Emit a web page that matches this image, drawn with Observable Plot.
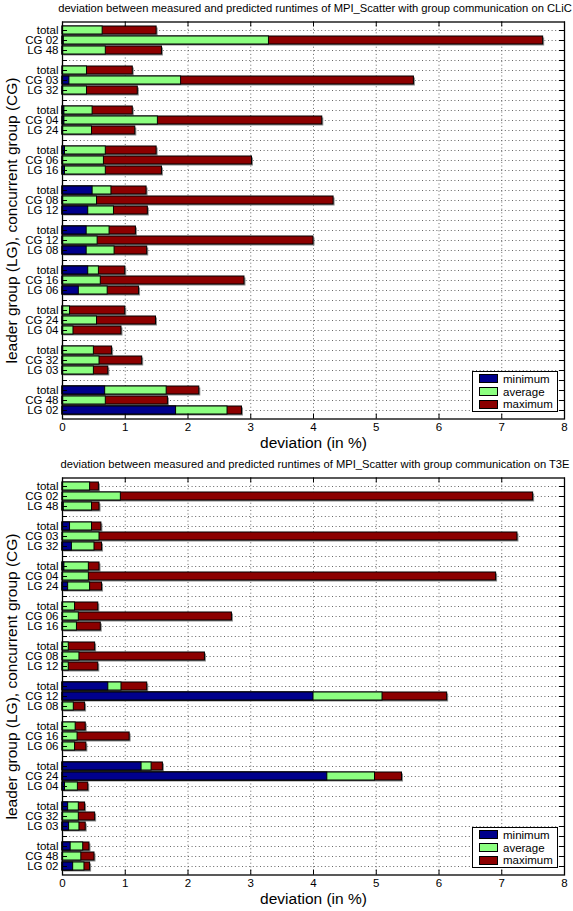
<!DOCTYPE html>
<html><head><meta charset="utf-8">
<script src="https://cdn.jsdelivr.net/npm/d3@7"></script>
<script src="https://cdn.jsdelivr.net/npm/@observablehq/plot@0.6"></script>
<style>
body{margin:0;background:#fff;font-family:"Liberation Sans",Arial,Helvetica,sans-serif;}
.panel{position:relative;width:573px;overflow:hidden;}
.panel svg{display:block;}
.title{font-size:11.2px;line-height:17px;height:16px;text-align:center;padding-left:57px;white-space:nowrap;color:#000;}
.legend{position:absolute;left:472px;width:86px;height:41px;background:#fff;border:1px solid #000;box-sizing:border-box;padding:0.5px 0 0 6px;font-size:11.5px;color:#000;}
.legend div{display:flex;align-items:center;height:12.7px;}
.legend span.sw{display:inline-block;box-sizing:border-box;width:19px;height:9px;border:1px solid #000;margin-right:5px;}
</style>
</head><body>
<div id="app"></div>
<script>
// ---------- data ----------
const groupCG = ["CG 02","CG 03","CG 04","CG 06","CG 08","CG 12","CG 16","CG 24","CG 32","CG 48"];
const groupLG = ["LG 48","LG 32","LG 24","LG 16","LG 12","LG 08","LG 06","LG 04","LG 03","LG 02"];
const xTickValues = [0,1,2,3,4,5,6,7,8];
const seriesNames = ["minimum","average","maximum"];
const seriesColors = ["#00008c","#8cff80","#8c0000"];

// rows per group: total, CG, LG
const clicMin = [0,0.02,0.01, 0,0.11,0.01, 0.03,0.03,0.01, 0.04,0.01,0.04, 0.48,0.01,0.41,
                 0.385,0.01,0.385, 0.41,0.01,0.26, 0.01,0.01,0.01, 0.01,0.01,0.01, 0.68,0.01,1.81];
const clicAvg = [0.64,3.29,0.69, 0.39,1.89,0.39, 0.48,1.52,0.47, 0.69,0.66,0.69, 0.78,0.55,0.82,
                 0.75,0.56,0.83, 0.58,0.61,0.72, 0.12,0.55,0.175, 0.50,0.59,0.50, 1.66,0.69,2.63];
const clicMax = [1.50,7.66,1.585, 1.12,5.60,1.20, 1.12,4.14,1.16, 1.50,3.02,1.585, 1.34,4.32,1.36,
                 1.17,4.00,1.35, 1.00,2.90,1.22, 1.00,1.49,0.94, 0.79,1.27,0.73, 2.18,1.68,2.86];

const t3eMin = [0,0,0.02, 0.12,0,0.15, 0.03,0,0.09, 0,0,0, 0,0,0,
                0.73,4.00,0, 0,0,0, 1.26,4.22,0.04, 0.09,0,0.105, 0.13,0,0.17];
const t3eAvg = [0.44,0.93,0.47, 0.47,0.59,0.51, 0.42,0.42,0.44, 0.20,0.26,0.23, 0.10,0.27,0.10,
                0.94,5.10,0.18, 0.21,0.24,0.20, 1.42,4.98,0.245, 0.26,0.26,0.27, 0.33,0.30,0.35];
const t3eMax = [0.58,7.50,0.59, 0.62,7.25,0.63, 0.59,6.91,0.63, 0.57,2.70,0.61, 0.52,2.27,0.57,
                1.35,6.13,0.36, 0.37,1.07,0.38, 1.60,5.41,0.41, 0.36,0.52,0.37, 0.43,0.51,0.44];

const panels = [
  {title:"deviation between measured and predicted runtimes of MPI_Scatter with group communication on CLiC",
   min:clicMin, avg:clicAvg, max:clicMax, marginBottom:37.5},
  {title:"deviation between measured and predicted runtimes of MPI_Scatter with group communication on T3E",
   min:t3eMin, avg:t3eAvg, max:t3eMax, marginBottom:36.5}
];

// ---------- build ----------
const W = 573, ML = 62, MR = 9, MT = 5.5, FRAME_H = 397, TITLE_H = 16;
const frameW = W - ML - MR;
const app = document.getElementById("app");

panels.forEach((p) => {
  const keys = [], labelOf = {}, rows = [];
  groupCG.forEach((cg, g) => {
    if (g > 0) { const k = `gap${g}`; keys.push(k); labelOf[k] = ""; }
    ["total", cg, groupLG[g]].forEach((lab, r) => {
      const k = `${g}-${r}`; keys.push(k); labelOf[k] = lab;
      const i = g*3 + r;
      rows.push({key:k, min:p.min[i], avg:p.avg[i], max:p.max[i]});
    });
  });

  const panel = document.createElement("div");
  panel.className = "panel";
  const t = document.createElement("div");
  t.className = "title"; t.textContent = p.title;
  panel.appendChild(t);

  const H = MT + FRAME_H + p.marginBottom;
  const dots = {stroke:"#555", strokeWidth:0.9, strokeDasharray:"1,2.6", strokeOpacity:1};
  const chart = Plot.plot({
    width: W, height: H,
    marginLeft: ML, marginRight: MR, marginTop: MT, marginBottom: p.marginBottom,
    style: {fontFamily:'"Liberation Sans",Arial,Helvetica,sans-serif', fontSize:"11.5px", color:"#000", background:"#fff"},
    x: {domain:[0,8], label:null},
    y: {type:"band", domain:keys, paddingInner:0.2, paddingOuter:0.1, label:null},
    marks: [
      Plot.gridY(keys, dots),
      Plot.gridX([1,2,3,4,5,6,7], dots),
      Plot.barX(rows, {x:"max", y:"key", fill:"#8a8a8a", dx:1.5, dy:1.5}),
      Plot.barX(rows, {x:"max", y:"key", fill:seriesColors[2], stroke:"#000", strokeWidth:1}),
      Plot.barX(rows, {x:"avg", y:"key", fill:seriesColors[1], stroke:"#000", strokeWidth:1}),
      Plot.barX(rows.filter(d => d.min > 0), {x:"min", y:"key", fill:seriesColors[0], stroke:"#000", strokeWidth:1}),
      Plot.ruleY(keys, {y:d=>d, stroke:"#000", insetRight: frameW - 5}),
      Plot.ruleY(keys, {y:d=>d, stroke:"#000", insetLeft: frameW - 5}),
      Plot.ruleX(xTickValues, {x:d=>d, stroke:"#000", insetTop: FRAME_H - 5}),
      Plot.ruleX(xTickValues, {x:d=>d, stroke:"#000", insetBottom: FRAME_H - 5}),
      Plot.frame({stroke:"#000", strokeWidth:1.3}),
      Plot.axisY({tickSize:0, tickPadding:4, fontSize:11.5, tickFormat: k => labelOf[k]}),
      Plot.axisX({ticks:xTickValues, tickSize:0, tickPadding:4, fontSize:11.5, label:null}),
      Plot.text(["deviation (in %)"], {text:d=>d, frameAnchor:"bottom", dy:24.5, fontSize:15.5, lineAnchor:"middle"}),
      Plot.text(["leader group (LG), concurrent group (CG)"], {text:d=>d, frameAnchor:"left", textAnchor:"middle", dx:-50, rotate:-90, fontSize:15.5, lineAnchor:"middle"})
    ]
  });
  panel.appendChild(chart);

  const lg = document.createElement("div");
  lg.className = "legend";
  lg.style.top = (TITLE_H + MT + FRAME_H - 6.5 - 41) + "px";
  seriesNames.forEach((n, i) => {
    const r = document.createElement("div");
    r.innerHTML = `<span class="sw" style="background:${seriesColors[i]}"></span>${n}`;
    lg.appendChild(r);
  });
  panel.appendChild(lg);
  app.appendChild(panel);
});
</script>
</body></html>
